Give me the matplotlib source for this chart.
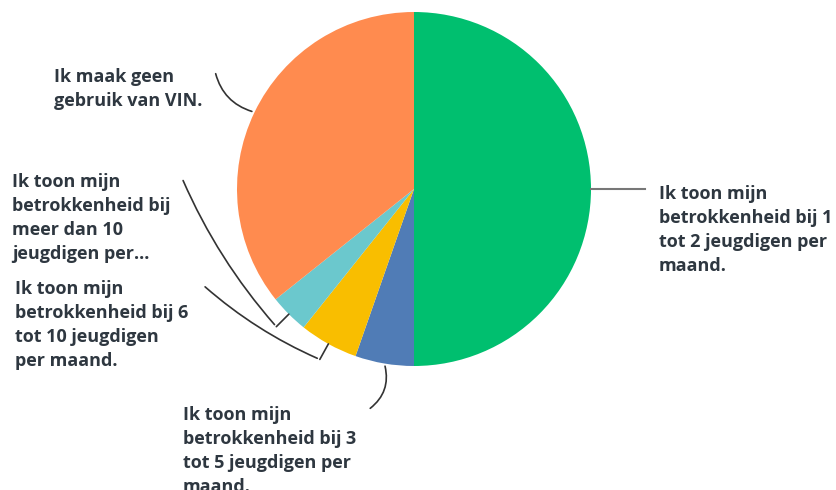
import numpy as np
import matplotlib
matplotlib.use("Agg")
import matplotlib.pyplot as plt

labels = [
    "Ik toon mijn\nbetrokkenheid bij 1\ntot 2 jeugdigen per\nmaand.",
    "Ik toon mijn\nbetrokkenheid bij 3\ntot 5 jeugdigen per\nmaand.",
    "Ik toon mijn\nbetrokkenheid bij 6\ntot 10 jeugdigen\nper maand.",
    "Ik toon mijn\nbetrokkenheid bij\nmeer dan 10\njeugdigen per...",
    "Ik maak geen\ngebruik van VIN.",
]
counts = [28, 3, 3, 2, 20]
colors = ["#00BF6F", "#507CB6", "#F9BE00", "#6BC8CD", "#FF8B4F"]

W, H = 836, 490
cx, cy, R = 414, 189, 177

fig = plt.figure(figsize=(W / 100, H / 100), dpi=100)
ax = fig.add_axes([(cx - R) / W, (H - cy - R) / H, 2 * R / W, 2 * R / H])
wedges, _ = ax.pie(counts, colors=colors, startangle=90, counterclock=False,
                   radius=1, wedgeprops=dict(linewidth=0))
ax.set_xlim(-1, 1)
ax.set_ylim(-1, 1)
ax.set_aspect("equal")
ax.axis("off")


def px(x, y):
    # pixel position -> data units of the pie axes
    return (x - cx) / R, (cy - y) / R


def mid(w):
    a = np.deg2rad((w.theta1 + w.theta2) / 2)
    return np.cos(a), np.sin(a)


txt = dict(fontsize=13, fontweight="bold", color="#2E3740", family=["Open Sans", "DejaVu Sans"],
           linespacing=1.42, va="top", ha="left", clip_on=False)
line = dict(color="#333333", lw=1.2, clip_on=False, solid_capstyle="round")
conn = dict(arrowstyle="-", color="#333333", lw=1.2)

# green: straight line to the right
mx, my = mid(wedges[0])
ax.plot([mx, px(645, 0)[0]], [my, my], color="#777777", lw=1.5, clip_on=False)
ax.text(*px(659, 185), labels[0], **txt)

# blue
mx, my = mid(wedges[1])
ax.annotate("", xy=(mx, my), xytext=px(368, 410), annotation_clip=False,
            arrowprops=dict(conn, connectionstyle="arc3,rad=0.35"))
ax.text(*px(183, 406), labels[1], **txt)

# yellow
mx, my = mid(wedges[2])
ex, ey = 1.1 * mx, 1.1 * my
ax.annotate("", xy=(ex, ey), xytext=px(203, 285), annotation_clip=False,
            arrowprops=dict(conn, connectionstyle="arc3,rad=0.08"))
ax.plot([ex, mx], [ey, my], **line)
ax.text(*px(15, 280), labels[2], **txt)

# teal
mx, my = mid(wedges[3])
ex, ey = 1.1 * mx, 1.1 * my
ax.annotate("", xy=(ex, ey), xytext=px(182, 178), annotation_clip=False,
            arrowprops=dict(conn, connectionstyle="arc3,rad=0.08"))
ax.plot([ex, mx], [ey, my], **line)
ax.text(*px(12, 173), labels[3], **txt)

# orange
mx, my = mid(wedges[4])
ax.annotate("", xy=(mx, my), xytext=px(215, 71), annotation_clip=False,
            arrowprops=dict(conn, connectionstyle="arc3,rad=0.3"))
ax.text(*px(54, 68), labels[4], **txt)

fig.savefig("out.png", dpi=100, facecolor="white")
